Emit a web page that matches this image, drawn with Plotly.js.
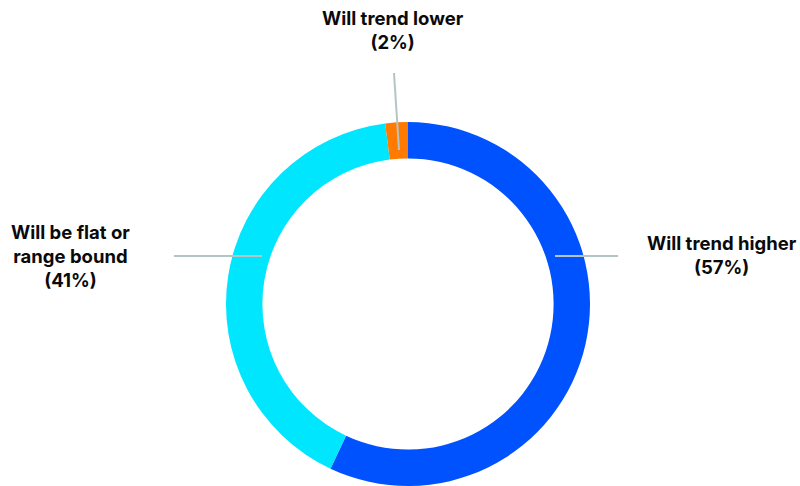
<!DOCTYPE html>
<html>
<head>
<meta charset="utf-8">
<script src="https://cdn.plot.ly/plotly-3.0.1.min.js"></script>
<style>html,body{margin:0;padding:0;background:#fff}#chart{width:800px;height:486px}</style>
</head>
<body>
<div id="chart"></div>
<script>
const categories = ["Will trend higher", "Will be flat or range bound", "Will trend lower"];
const labelLines = [["Will trend higher"], ["Will be flat or", "range bound"], ["Will trend lower"]];
const values = [57, 41, 2];
const colors = ["#0052FF", "#00E6FF", "#FF7A00"];

const W = 800, H = 486;
const px = x => x / W, py = y => 1 - y / H;

// label anchor positions (pixels) and leader lines
const labelPos = [
  {x: 722, y: 255},
  {x: 70, y: 256},
  {x: 393, y: 30}
];
const leaders = [
  {x0: 555, y0: 256, x1: 618, y1: 256},
  {x0: 174, y0: 256, x1: 262, y1: 256},
  {x0: 394, y0: 73, x1: 399, y1: 150}
];

const annotations = categories.map((c, i) => ({
  xref: 'paper', yref: 'paper',
  x: px(labelPos[i].x), y: py(labelPos[i].y),
  xanchor: 'center', yanchor: 'middle',
  showarrow: false, align: 'center',
  text: labelLines[i].map(s => '<b>' + s + '</b>').join('<br>') + '<br><b>(' + values[i] + '%)</b>',
  font: {family: 'Inter, Roboto, sans-serif', size: 18.5, color: '#0a0a0a'}
}));

const shapes = leaders.map(l => ({
  type: 'line', xref: 'paper', yref: 'paper',
  x0: px(l.x0), y0: py(l.y0), x1: px(l.x1), y1: py(l.y1),
  line: {color: '#B5C4C4', width: 2}
}));

const trace = {
  type: 'pie',
  labels: categories,
  values: values,
  marker: {colors: colors, line: {width: 0}},
  hole: 0.8,
  sort: false,
  direction: 'clockwise',
  rotation: 0,
  textinfo: 'none',
  hoverinfo: 'label+percent',
  domain: {x: [226 / W, 590 / W], y: [0, 364 / H]},
  showlegend: false
};

Plotly.newPlot('chart', [trace], {
  width: W, height: H,
  margin: {l: 0, r: 0, t: 0, b: 0},
  paper_bgcolor: '#fff',
  showlegend: false,
  annotations: annotations,
  shapes: shapes
}, {displayModeBar: false, staticPlot: true});
</script>
</body>
</html>
